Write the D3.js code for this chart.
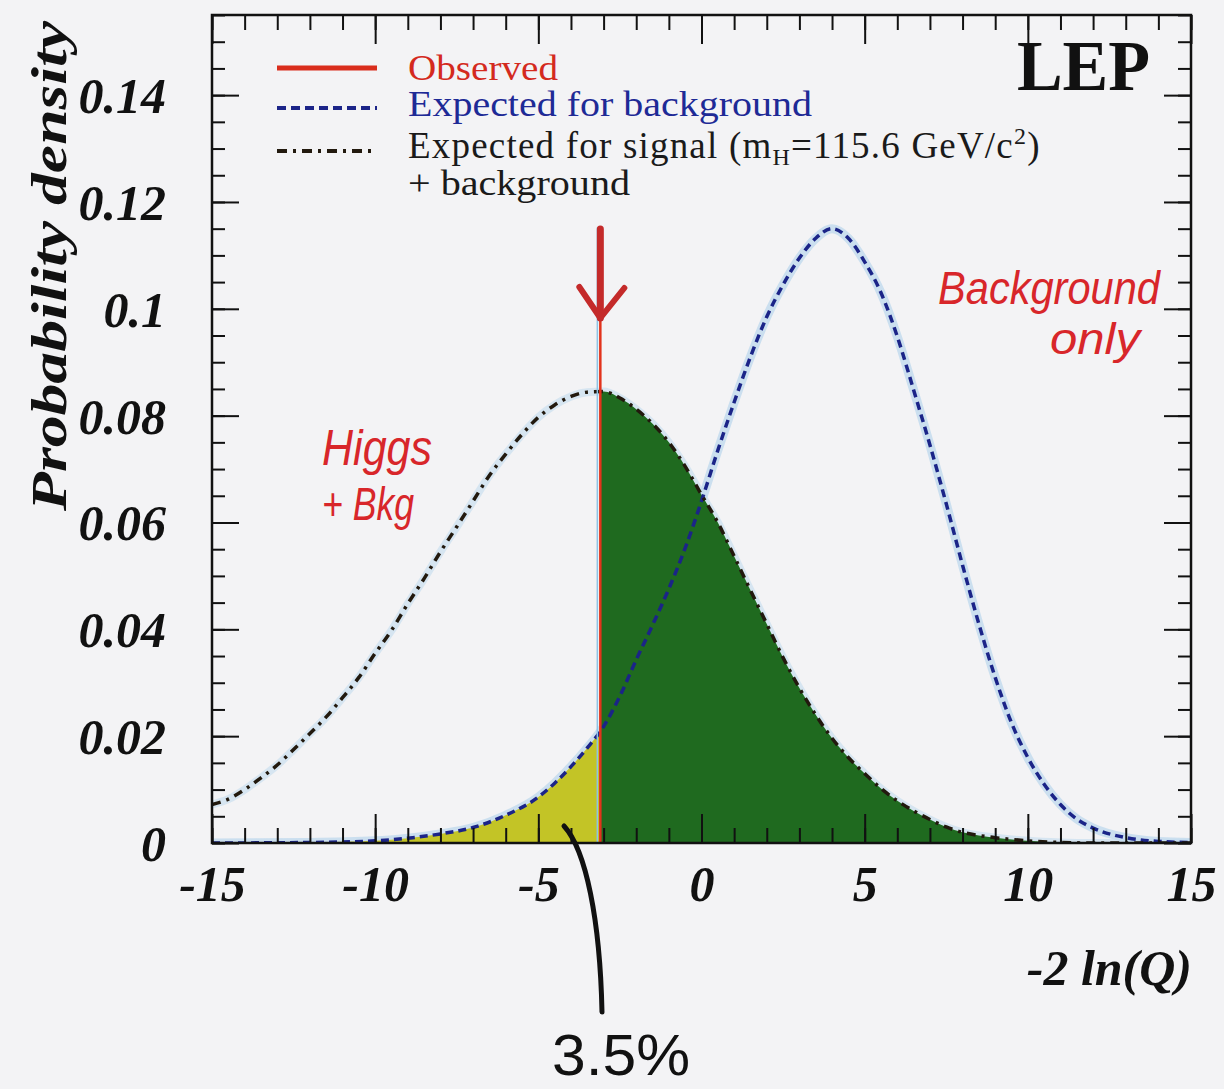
<!DOCTYPE html>
<html><head><meta charset="utf-8">
<script src="https://cdn.jsdelivr.net/npm/d3@7"></script>
<style>html,body{margin:0;padding:0;background:#f3f3f5;}svg{display:block;}</style>
</head><body>
<svg id="c" width="1224" height="1089"></svg>
<script>
// ---- data ----
const bkgX = [-15,-12,-10,-9,-8,-7,-6,-5,-4.5,-4,-3.5,-3,-2.5,-2,-1.5,-1,-0.5,0,0.5,1,1.5,2,2.5,3,3.5,4,4.5,5,5.5,6,6.5,7,7.5,8,8.5,9,9.5,10,10.5,11,11.5,12,13,14,15];
const bkgY = [0,0.0001,0.0004,0.0009,0.0017,0.0029,0.0052,0.0086,0.0112,0.0143,0.0178,0.0218,0.0275,0.0343,0.0408,0.0476,0.0552,0.0640,0.0735,0.0825,0.0910,0.0985,0.1045,0.1095,0.1132,0.1150,0.1132,0.1088,0.1030,0.0948,0.0848,0.0745,0.0635,0.0520,0.0410,0.0310,0.0225,0.0160,0.0110,0.0072,0.0045,0.0028,0.0010,0.0003,0.0001];
const sbX = [-15,-14.5,-14,-13.5,-13,-12.5,-12,-11.5,-11,-10.5,-10,-9.5,-9,-8.5,-8,-7.5,-7,-6.5,-6,-5.5,-5,-4.5,-4,-3.5,-3,-2.5,-2,-1.5,-1,-0.5,0,0.5,1,1.5,2,2.5,3,3.5,4,4.5,5,5.5,6,6.5,7,7.5,8,8.5,9,10,11,12,15];
const sbY = [0.0072,0.0082,0.0100,0.0122,0.0146,0.0175,0.0205,0.0236,0.0272,0.0310,0.0355,0.0398,0.0448,0.0495,0.0545,0.0592,0.0640,0.0688,0.0728,0.0765,0.0797,0.0820,0.0836,0.0844,0.0845,0.0833,0.0812,0.0785,0.0750,0.0705,0.0652,0.0600,0.0537,0.0473,0.0410,0.0347,0.0290,0.0240,0.0196,0.0160,0.0130,0.0102,0.0079,0.0060,0.0044,0.0030,0.0020,0.0014,0.0010,0.0004,0.0001,0,0];
const observed = -3.1;
const observedTop = 0.1152;
const xMajor = [-15,-10,-5,0,5,10,15];
const xMajorLabels = ["-15","-10","-5","0","5","10","15"];
const xMinor = d3.range(-15,16,1);
const yMajor = [0,0.02,0.04,0.06,0.08,0.1,0.12,0.14];
const yMajorLabels = ["0","0.02","0.04","0.06","0.08","0.1","0.12","0.14"];
const yMinor = d3.range(0,0.1551,0.005);
const legendLabels = ["Observed","Expected for background","Expected for signal (m","+ background"];

// ---- layout ----
const svg = d3.select("#c");
const X0=212, X1=1191, Y0=15, Y1=843;
const x = d3.scaleLinear().domain([-15,15]).range([X0,X1]);
const y = d3.scaleLinear().domain([0,0.155]).range([Y1,Y0]);
const serif = "'Liberation Serif','Times New Roman',serif";
const hand = "'Liberation Sans','DejaVu Sans',sans-serif";

const bkg = bkgX.map((v,i)=>({x:v,y:bkgY[i]}));
const sb = sbX.map((v,i)=>({x:v,y:sbY[i]}));

const defs = svg.append("defs");
defs.append("clipPath").attr("id","plot").append("rect").attr("x",X0).attr("y",Y0).attr("width",X1-X0).attr("height",Y1-Y0);
defs.append("clipPath").attr("id","leftObs").append("rect").attr("x",X0).attr("y",Y0).attr("width",x(observed)-X0).attr("height",Y1-Y0);
defs.append("clipPath").attr("id","rightObs").append("rect").attr("x",x(observed)).attr("y",Y0).attr("width",X1-x(observed)).attr("height",Y1-Y0);

const line = d3.line().x(d=>x(d.x)).y(d=>y(d.y)).curve(d3.curveMonotoneX);
const area = d3.area().x(d=>x(d.x)).y0(y(0)).y1(d=>y(d.y)).curve(d3.curveMonotoneX);

const g = svg.append("g").attr("clip-path","url(#plot)");
// scan halo
g.append("path").datum(bkg).attr("d",line).attr("fill","none").attr("stroke","#b9d6ec").attr("stroke-width",9).attr("opacity",0.7);
g.append("path").datum(sb).attr("d",line).attr("fill","none").attr("stroke","#c3dcee").attr("stroke-width",8).attr("opacity",0.6);
// fills
g.append("path").datum(bkg).attr("d",area).attr("fill","#c3c426").attr("clip-path","url(#leftObs)");
g.append("path").datum(sb).attr("d",area).attr("fill","#1f6a1f").attr("clip-path","url(#rightObs)");
// curves
g.append("path").datum(bkg).attr("d",line).attr("fill","none").attr("stroke","#1b2488").attr("stroke-width",3.5).attr("stroke-dasharray","8,5");
g.append("path").datum(sb).attr("d",line).attr("fill","none").attr("stroke","#22190e").attr("stroke-width",3.5).attr("stroke-dasharray","9,6,3,6");
// observed line
svg.append("line").attr("x1",x(observed)-3).attr("x2",x(observed)-3).attr("y1",y(0)).attr("y2",y(observedTop)).attr("stroke","#8ec3e6").attr("stroke-width",1.5);
svg.append("line").attr("x1",x(observed)).attr("x2",x(observed)).attr("y1",y(0)).attr("y2",y(observedTop)).attr("stroke","#e2331c").attr("stroke-width",2.5);

// ---- axes (ticks inward on all 4 sides) ----
function styleAxis(sel){ sel.select(".domain").remove(); sel.selectAll("line").attr("stroke","#111").attr("stroke-width",2); }
svg.append("g").attr("transform",`translate(0,${Y1})`).call(d3.axisBottom(x).tickValues(xMinor).tickSize(-15).tickFormat("")).call(styleAxis);
svg.append("g").attr("transform",`translate(0,${Y0})`).call(d3.axisTop(x).tickValues(xMinor).tickSize(-15).tickFormat("")).call(styleAxis);
svg.append("g").attr("transform",`translate(0,${Y0})`).call(d3.axisTop(x).tickValues(xMajor).tickSize(-29).tickFormat("")).call(styleAxis);
const xb = svg.append("g").attr("transform",`translate(0,${Y1})`).call(d3.axisBottom(x).tickValues(xMajor).tickSize(-29).tickPadding(0).tickFormat((d,i)=>xMajorLabels[i])).call(styleAxis);
xb.selectAll("text").attr("y",58).attr("dy",0).attr("font-family",serif).attr("font-style","italic").attr("font-weight","bold").attr("font-size",50).attr("fill","#111");

svg.append("g").attr("transform",`translate(${X0},0)`).call(d3.axisLeft(y).tickValues(yMinor).tickSize(-13).tickFormat("")).call(styleAxis);
svg.append("g").attr("transform",`translate(${X1},0)`).call(d3.axisRight(y).tickValues(yMinor).tickSize(-13).tickFormat("")).call(styleAxis);
svg.append("g").attr("transform",`translate(${X1},0)`).call(d3.axisRight(y).tickValues(yMajor).tickSize(-27).tickFormat("")).call(styleAxis);
const yl = svg.append("g").attr("transform",`translate(${X0},0)`).call(d3.axisLeft(y).tickValues(yMajor).tickSize(-27).tickFormat((d,i)=>yMajorLabels[i])).call(styleAxis);
yl.selectAll("text").attr("x",-46).attr("dy","0.35em").attr("font-family",serif).attr("font-style","italic").attr("font-weight","bold").attr("font-size",50).attr("fill","#111");

svg.append("rect").attr("x",X0).attr("y",Y0).attr("width",X1-X0).attr("height",Y1-Y0).attr("fill","none").attr("stroke","#111").attr("stroke-width",2.5);

// axis titles
svg.append("text").attr("transform","translate(66,266) rotate(-90)").attr("text-anchor","middle")
  .attr("font-family",serif).attr("font-style","italic").attr("font-weight","bold").attr("font-size",50)
  .attr("textLength",490).attr("lengthAdjust","spacingAndGlyphs").attr("fill","#111").text("Probability density");
svg.append("text").attr("x",1192).attr("y",985).attr("text-anchor","end")
  .attr("font-family",serif).attr("font-style","italic").attr("font-weight","bold").attr("font-size",50)
  .attr("fill","#111").text("-2 ln(Q)");

// LEP
svg.append("text").attr("x",1017).attr("y",90).attr("font-family",serif).attr("font-weight","bold").attr("font-size",72)
  .attr("textLength",133).attr("lengthAdjust","spacingAndGlyphs").attr("fill","#111").text("LEP");

// ---- legend ----
svg.append("line").attr("x1",277).attr("x2",377).attr("y1",68).attr("y2",68).attr("stroke","#d92d1c").attr("stroke-width",5);
svg.append("line").attr("x1",277).attr("x2",377).attr("y1",108).attr("y2",108).attr("stroke","#1b2488").attr("stroke-width",4).attr("stroke-dasharray","9,5");
svg.append("line").attr("x1",277).attr("x2",377).attr("y1",151).attr("y2",151).attr("stroke","#22190e").attr("stroke-width",4).attr("stroke-dasharray","10,6,3,6");
const lt = (txt,yy,col,len)=>svg.append("text").attr("x",408).attr("y",yy).attr("font-family",serif).attr("font-size",35).attr("fill",col)
  .attr("textLength",len).attr("lengthAdjust","spacingAndGlyphs").text(txt);
lt(legendLabels[0],80,"#d42a1e",150);
lt(legendLabels[1],116,"#1e2a96",404);
const sig = svg.append("text").attr("x",408).attr("y",158).attr("font-family",serif).attr("font-size",37).attr("letter-spacing",1.2).attr("fill","#1a1a1a");
sig.append("tspan").text(legendLabels[2]);
sig.append("tspan").attr("dy",7).attr("font-size",24).text("H");
sig.append("tspan").attr("dy",-7).text("=115.6 GeV/c");
sig.append("tspan").attr("dy",-14).attr("font-size",24).text("2");
sig.append("tspan").attr("dy",14).text(")");
lt(legendLabels[3],195,"#1a1a1a",222);

// ---- hand-drawn annotations ----
const red = "#d8262a";
const ht = (txt,xx,yy,fs,len)=>svg.append("text").attr("x",xx).attr("y",yy).attr("font-family",hand).attr("font-style","italic")
  .attr("font-size",fs).attr("fill",red).attr("textLength",len).attr("lengthAdjust","spacingAndGlyphs").text(txt);
ht("Higgs",322,465,50,110);
ht("+ Bkg",322,520,46,92);
ht("Background",938,304,46,222);
ht("only",1050,354,44,90);

// arrow
const xa = x(observed);
svg.append("path").attr("d",`M${xa},229 L${xa},318`).attr("stroke","#c42a2a").attr("stroke-width",7).attr("stroke-linecap","round").attr("fill","none");
svg.append("path").attr("d",`M${xa-21},287 L${xa},318 L${xa+24},288`).attr("stroke","#c42a2a").attr("stroke-width",6).attr("stroke-linecap","round").attr("stroke-linejoin","round").attr("fill","none");

// 3.5% pointer
svg.append("path").attr("d","M564,826 C586,850 600,920 602,1012").attr("stroke","#111").attr("stroke-width",5).attr("fill","none").attr("stroke-linecap","round");
svg.append("text").attr("x",552).attr("y",1075).attr("font-family",hand).attr("font-size",58).attr("fill","#111")
  .attr("textLength",138).attr("lengthAdjust","spacingAndGlyphs").text("3.5%");
</script>
</body></html>
